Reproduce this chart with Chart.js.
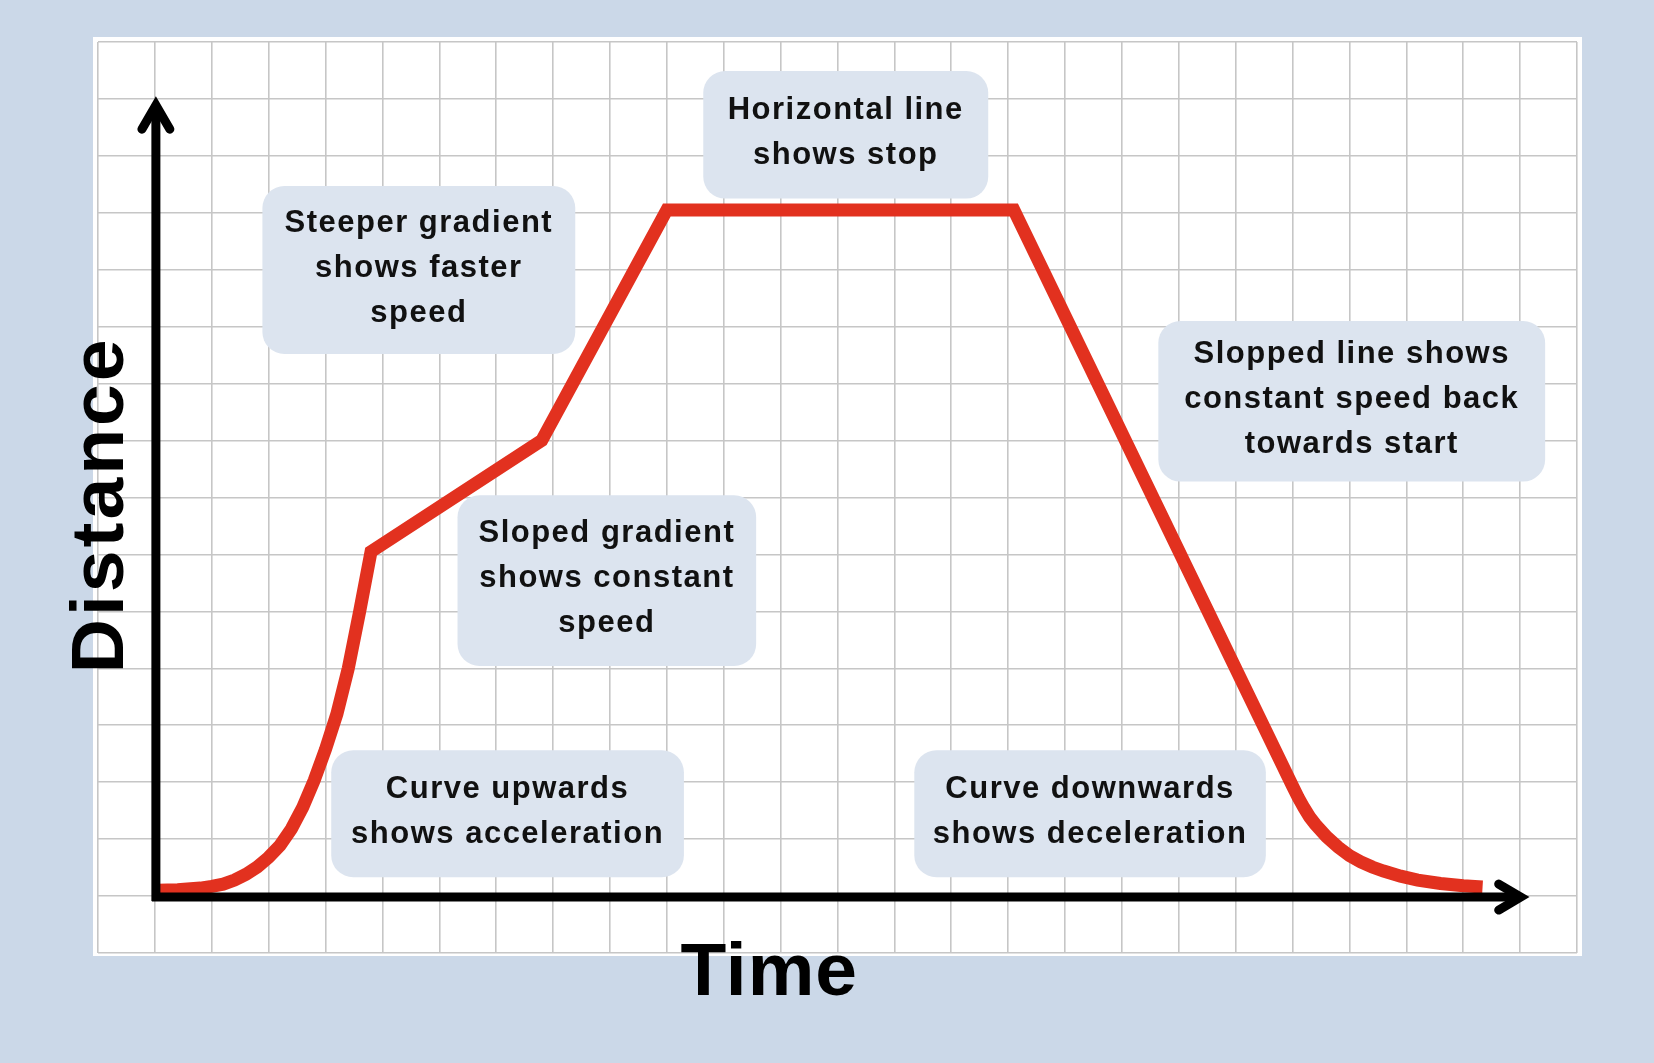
<!DOCTYPE html>
<html>
<head>
<meta charset="utf-8">
<script src="https://cdn.jsdelivr.net/npm/chart.js@4.4.1/dist/chart.umd.min.js"></script>
<style>
  html, body { margin: 0; padding: 0; background: #cbd8e8; }
  #wrap { width: 1654px; height: 1063px; position: relative; }
</style>
</head>
<body>
<div id="wrap"><canvas id="dt"></canvas></div>
<script>
// distance-time journey (1 unit = 1 grid square)
const timeValues = [0.05, 0.4, 0.8, 1.0, 1.2, 1.4, 1.6, 1.8, 2.0, 2.2, 2.4, 2.6, 2.8, 3.0, 3.2, 3.4, 3.6, 3.8,
  6.8, 9.0, 15.1, 20.0, 20.1, 20.2, 20.3, 20.4, 20.6, 20.8, 21.0, 21.2, 21.4, 21.6, 21.9, 22.2, 22.6, 23.0, 23.34];
const distanceValues = [0.1, 0.11, 0.14, 0.17, 0.21, 0.28, 0.38, 0.51, 0.68, 0.89, 1.18, 1.56, 2.03, 2.58, 3.2, 4.0, 5.0, 6.05,
  8.0, 12.05, 12.05, 1.93, 1.73, 1.55, 1.39, 1.26, 1.04, 0.86, 0.71, 0.6, 0.51, 0.44, 0.35, 0.28, 0.22, 0.18, 0.16];

const xTitle = "Time";
const yTitle = "Distance";

const noteTexts = [
  ["Horizontal line", "shows stop"],
  ["Steeper gradient", "shows faster", "speed"],
  ["Sloped gradient", "shows constant", "speed"],
  ["Curve upwards", "shows acceleration"],
  ["Curve downwards", "shows deceleration"],
  ["Slopped line shows", "constant speed back", "towards start"]
];
// box extents in grid units: [left, right, top, bottom]
const noteBoxes = [
  [9.64, 14.65, 14.49, 12.25],
  [1.89, 7.39, 12.47, 9.52],
  [5.32, 10.57, 7.04, 4.04],
  [3.10, 9.30, 2.56, 0.33],
  [13.35, 19.53, 2.56, 0.33],
  [17.64, 24.44, 10.10, 7.28]
];

const points = timeValues.map((t, i) => ({ x: t, y: distanceValues[i] }));

function roundRect(ctx, x, y, w, h, r) {
  ctx.beginPath();
  ctx.moveTo(x + r, y);
  ctx.arcTo(x + w, y, x + w, y + h, r);
  ctx.arcTo(x + w, y + h, x, y + h, r);
  ctx.arcTo(x, y + h, x, y, r);
  ctx.arcTo(x, y, x + w, y, r);
  ctx.closePath();
}

const paperPlugin = {
  id: "paper",
  beforeDraw(chart) {
    const { ctx, chartArea: a } = chart;
    ctx.save();
    ctx.fillStyle = "#ffffff";
    ctx.fillRect(a.left - 5, a.top - 5, a.right - a.left + 10, a.bottom - a.top + 8);
    ctx.restore();
  },
  beforeDatasetsDraw(chart) {
    const { ctx, scales: { x, y } } = chart;
    ctx.save();
    noteBoxes.forEach((b, i) => {
      const l = x.getPixelForValue(b[0]), r = x.getPixelForValue(b[1]);
      const t = y.getPixelForValue(b[2]), btm = y.getPixelForValue(b[3]);
      ctx.fillStyle = "#dce4ef";
      roundRect(ctx, l, t, r - l, btm - t, 22);
      ctx.fill();
      const lines = noteTexts[i];
      const lh = 45;
      const cx = (l + r) / 2, cy = (t + btm) / 2 - 2;
      ctx.fillStyle = "#111111";
      ctx.font = "bold 31px 'Liberation Sans', Arial, sans-serif";
      ctx.letterSpacing = "1.5px";
      ctx.textAlign = "center";
      ctx.textBaseline = "middle";
      lines.forEach((s, k) => {
        ctx.fillText(s, cx, cy + (k - (lines.length - 1) / 2) * lh);
      });
    });
    ctx.restore();
  },
  afterDatasetsDraw(chart) {
    const { ctx, scales: { x, y } } = chart;
    const ax = x.getPixelForValue(0) + 1, ay = y.getPixelForValue(0) + 1;
    const yApex = y.getPixelForValue(13.89), xApex = x.getPixelForValue(24.01);
    ctx.save();
    ctx.strokeStyle = "#000000";
    ctx.lineWidth = 9;
    ctx.lineCap = "butt";
    // axes
    ctx.beginPath();
    ctx.moveTo(ax, ay + 4);
    ctx.lineTo(ax, yApex);
    ctx.moveTo(ax - 4, ay);
    ctx.lineTo(xApex, ay);
    ctx.stroke();
    // arrow heads
    ctx.lineCap = "round";
    ctx.lineJoin = "miter";
    ctx.beginPath();
    ctx.moveTo(ax - 14, yApex + 24);
    ctx.lineTo(ax, yApex);
    ctx.lineTo(ax + 14, yApex + 24);
    ctx.moveTo(xApex - 22, ay - 13);
    ctx.lineTo(xApex, ay);
    ctx.lineTo(xApex - 22, ay + 13);
    ctx.stroke();
    // axis titles
    ctx.fillStyle = "#000000";
    ctx.font = "bold 75px 'Liberation Sans', Arial, sans-serif";
    ctx.textAlign = "center";
    ctx.textBaseline = "middle";
    ctx.letterSpacing = "1px";
    ctx.fillText(xTitle, x.getPixelForValue(10.8), y.getPixelForValue(-1.37));
    ctx.save();
    ctx.translate(x.getPixelForValue(-0.92), y.getPixelForValue(6.87));
    ctx.rotate(-Math.PI / 2);
    ctx.letterSpacing = "3px";
    ctx.fillText(yTitle, 0, 0);
    ctx.restore();
    ctx.restore();
  }
};

new Chart(document.getElementById("dt").getContext("2d"), {
  type: "line",
  data: {
    datasets: [{
      label: "Distance",
      data: points,
      borderColor: "#e2311f",
      borderWidth: 13,
      borderJoinStyle: "miter",
      borderCapStyle: "butt",
      tension: 0,
      pointRadius: 0,
      fill: false
    }]
  },
  options: {
    responsive: true,
    maintainAspectRatio: false,
    animation: false,
    layout: { padding: { left: 98, top: 42, right: 77, bottom: 110 } },
    scales: {
      x: {
        type: "linear",
        min: -1,
        max: 25,
        ticks: { display: false, stepSize: 1 },
        grid: { color: "#c6c6c6", lineWidth: 1.6, drawTicks: false },
        border: { display: false }
      },
      y: {
        type: "linear",
        min: -1,
        max: 15,
        ticks: { display: false, stepSize: 1 },
        grid: { color: "#c6c6c6", lineWidth: 1.6, drawTicks: false },
        border: { display: false }
      }
    },
    plugins: {
      legend: { display: false },
      tooltip: { enabled: false }
    }
  },
  plugins: [paperPlugin]
});
</script>
</body>
</html>
